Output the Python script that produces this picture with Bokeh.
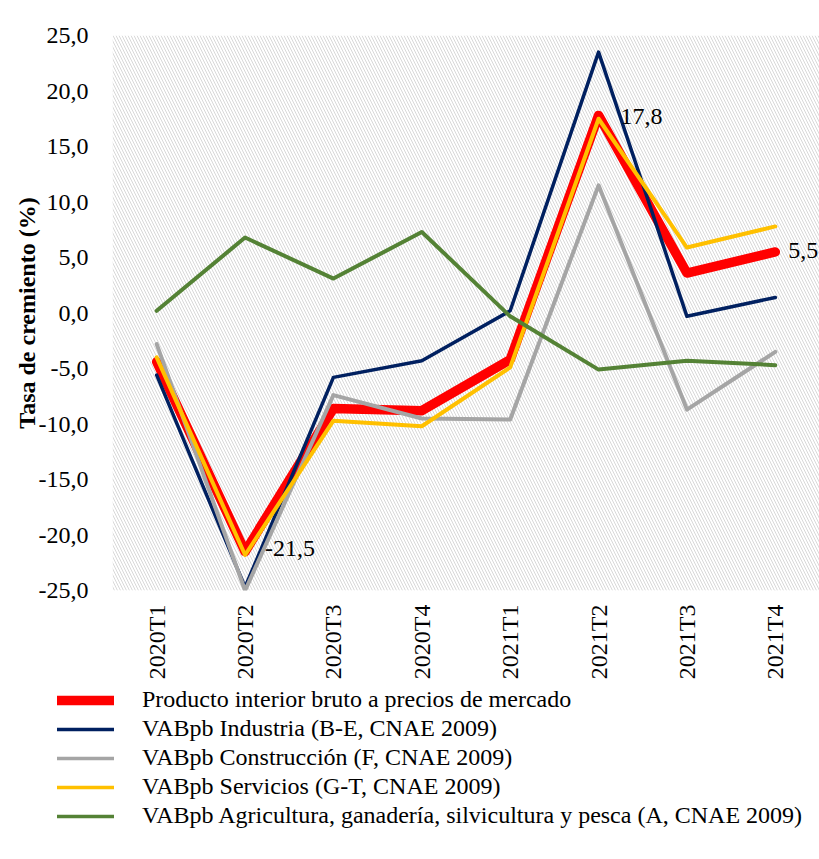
from bokeh.plotting import figure
from bokeh.layouts import column
from bokeh.models import FixedTicker, Legend, LegendItem, BoxAnnotation, Label
from bokeh.embed import file_html
from bokeh.resources import INLINE

categories = ["2020T1", "2020T2", "2020T3", "2020T4", "2021T1", "2021T2", "2021T3", "2021T4"]
pib = [-4.4, -21.5, -8.6, -8.8, -4.2, 17.8, 3.6, 5.5]
industria = [-5.6, -24.7, -5.8, -4.3, 0.2, 23.5, -0.3, 1.4]
construccion = [-2.8, -25.0, -7.4, -9.5, -9.6, 11.5, -8.7, -3.5]
servicios = [-4.0, -21.8, -9.7, -10.2, -4.9, 17.5, 5.9, 7.8]
agricultura = [0.2, 6.8, 3.1, 7.3, -0.3, -5.1, -4.3, -4.7]
y_ticks = [-25, -20, -15, -10, -5, 0, 5, 10, 15, 20, 25]
y_tick_labels = ["-25,0", "-20,0", "-15,0", "-10,0", "-5,0", "0,0", "5,0", "10,0", "15,0", "20,0", "25,0"]
names = [
    "Producto interior bruto a precios de mercado",
    "VABpb Industria (B-E, CNAE 2009)",
    "VABpb Construcción (F, CNAE 2009)",
    "VABpb Servicios (G-T, CNAE 2009)",
    "VABpb Agricultura, ganadería, silvicultura y pesca (A, CNAE 2009)",
]
colors = ["#FF0000", "#002060", "#A5A5A5", "#FFC000", "#548235"]

FONT = "Liberation Serif"
FS = "24px"
xs = list(range(len(categories)))
series = [pib, industria, construccion, servicios, agricultura]
widths = [9.5, 3.5, 4, 4, 4]

p = figure(width=819, height=682, x_range=(-0.5, 7.5), y_range=(-25, 25),
           output_backend="svg", toolbar_location=None,
           min_border_left=112, min_border_top=35, min_border_right=0, min_border_bottom=87)
p.frame_align = False
p.outline_line_color = None
p.background_fill_color = "white"

p.add_layout(BoxAnnotation(left=-0.5, right=7.5, bottom=-25, top=25, fill_color="white",
                           fill_alpha=1, line_color=None, hatch_pattern="\\",
                           hatch_color="#d8d8d8", hatch_scale=6, hatch_weight=1, level="underlay"))

p.xaxis.ticker = FixedTicker(ticks=xs)
p.xaxis.major_label_overrides = {i: c for i, c in enumerate(categories)}
p.xaxis.major_label_orientation = 1.5708
p.yaxis.ticker = FixedTicker(ticks=y_ticks)
p.yaxis.major_label_overrides = {t: l for t, l in zip(y_ticks, y_tick_labels)}
for ax in (p.xaxis, p.yaxis):
    ax.axis_line_color = None
    ax.major_tick_line_color = None
    ax.minor_tick_line_color = None
    ax.major_label_text_font = FONT
    ax.major_label_text_font_size = FS
    ax.major_label_text_color = "black"
p.xaxis.major_label_standoff = 8
p.yaxis.major_label_standoff = 18
p.yaxis.axis_label = "Tasa de cremiento (%)"
p.yaxis.axis_label_text_font = FONT
p.yaxis.axis_label_text_font_style = "bold"
p.yaxis.axis_label_text_font_size = FS
p.yaxis.axis_label_text_color = "black"
p.yaxis.axis_label_standoff = -4

p.xgrid.ticker = FixedTicker(ticks=[i * 0.5 - 0.5 for i in range(17)])
p.ygrid.ticker = FixedTicker(ticks=y_ticks)
for g in (p.xgrid, p.ygrid):
    g.grid_line_color = "#dcdcdc"
    g.grid_line_width = 1.5
    g.level = "underlay"

for s, c, w in zip(series, colors, widths):
    p.line(xs, s, line_color=c, line_width=w, line_join="round", line_cap="round")

for xi, val, dx, dy in [(1, pib[1], 20, 3), (5, pib[5], 22, -1), (7, pib[7], 13, 1)]:
    txt = ("%.1f" % val).replace(".", ",")
    p.add_layout(Label(x=xi, y=val, text=txt, x_offset=dx, y_offset=dy,
                       text_font=FONT, text_font_size=FS, text_color="black",
                       text_baseline="middle"))

# Legend panel: a second figure whose view range lies away from the data
q = figure(width=819, height=173, x_range=(-0.5, 7.5), y_range=(100, 101),
           output_backend="svg", toolbar_location=None,
           x_axis_location=None, y_axis_location=None,
           min_border_left=0, min_border_right=0, min_border_top=0, min_border_bottom=0)
q.frame_align = False
q.outline_line_color = None
q.xgrid.visible = False
q.ygrid.visible = False
leg_widths = [9.5, 3.5, 3.5, 3.5, 3.5]
items = []
for n, s, c, w in zip(names, series, colors, leg_widths):
    r = q.line(xs, s, line_color=c, line_width=w, line_cap="round")
    items.append(LegendItem(label=n, renderers=[r]))

legend = Legend(items=items, location=(57, 26), orientation="vertical",
                glyph_width=57, glyph_height=20, label_height=20, spacing=2,
                label_standoff=28, padding=0, margin=0, border_line_color=None,
                background_fill_alpha=0, label_text_font=FONT,
                label_text_font_size=FS, label_text_color="black")
q.add_layout(legend)

open("out.html", "w").write(file_html(column(p, q, spacing=0), INLINE))
